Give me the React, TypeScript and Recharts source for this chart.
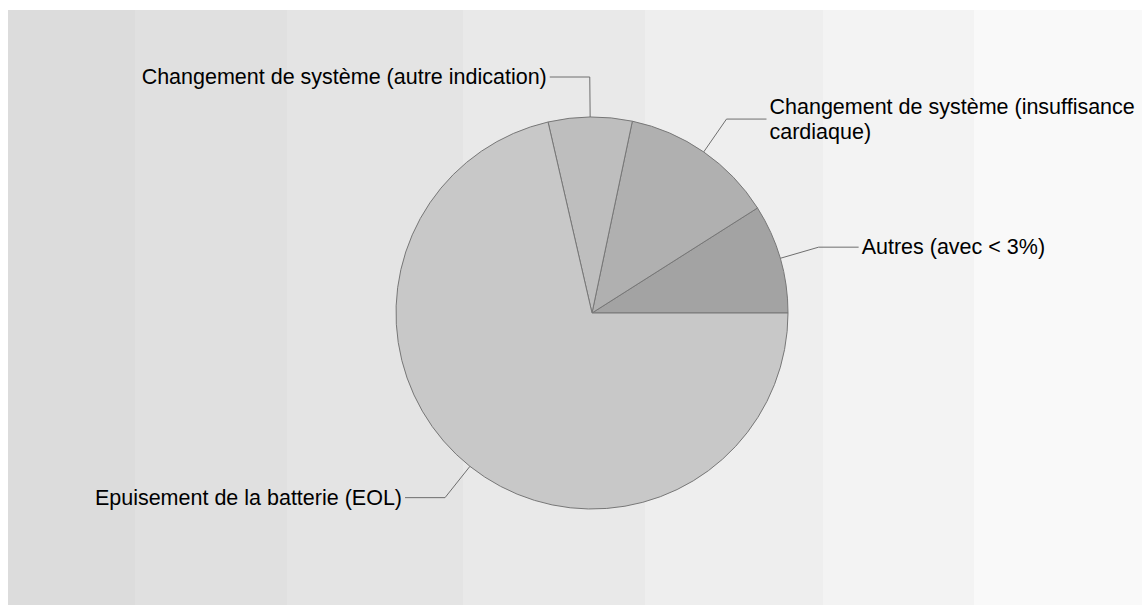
import { PieChart, Pie, Cell } from 'recharts';

const labels = [
  'Autres (avec < 3%)',
  'Changement de système (insuffisance cardiaque)',
  'Changement de système (autre indication)',
  'Epuisement de la batterie (EOL)',
];
const shares = [9.0, 12.7, 6.9, 71.4];
const sliceColors = ['#a3a3a3', '#b0b0b0', '#bebebe', '#c8c8c8'];

const data = labels.map((name, i) => ({ name, value: shares[i] }));

const CHART_W = 1134;
const CHART_H = 595;
const FONT = '21.5px Arial, "Liberation Sans", sans-serif';
const RADIAN = Math.PI / 180;

// background bands (hard-stop gradient)
const bands = [
  ['#dcdcdc', 0, 127],
  ['#e0e0e0', 127, 279],
  ['#e4e4e4', 279, 455],
  ['#e9e9e9', 455, 637],
  ['#eeeeee', 637, 815],
  ['#f3f3f3', 815, 966],
  ['#f9f9f9', 966, 1134],
] as const;
const bg = `linear-gradient(to right, ${bands
  .map(([c, a, b]) => `${c} ${a}px, ${c} ${b}px`)
  .join(', ')})`;

let ctx: CanvasRenderingContext2D | null = null;
function measure(s: string) {
  if (!ctx) {
    ctx = document.createElement('canvas').getContext('2d');
    if (ctx) ctx.font = FONT;
  }
  return ctx ? ctx.measureText(s).width : s.length * 10;
}

function wrap(text: string, maxW: number) {
  const words = text.split(' ');
  const lines: string[] = [];
  let cur = '';
  words.forEach((w) => {
    const next = cur ? cur + ' ' + w : w;
    if (cur && measure(next) > maxW) {
      lines.push(cur);
      cur = w;
    } else {
      cur = next;
    }
  });
  if (cur) lines.push(cur);
  return lines;
}

function renderLabel(props: any) {
  const { cx, cy, midAngle, outerRadius, name } = props;
  const cos = Math.cos(-midAngle * RADIAN);
  const sin = Math.sin(-midAngle * RADIAN);
  const sx = cx + outerRadius * cos;
  const sy = cy + outerRadius * sin;
  const mx = cx + (outerRadius + 40) * cos;
  const my = cy + (outerRadius + 40) * sin;
  const right = cos >= 0;
  const ex = mx + (right ? 40 : -40);
  const tx = ex + (right ? 3 : -3);
  const avail = right ? CHART_W - tx - 2 : tx - 2;
  const lines = wrap(name, avail);
  const lh = 25;
  const y0 = my - ((lines.length - 1) * lh) / 2;
  return (
    <g>
      <polyline
        points={`${sx},${sy} ${mx},${my} ${ex},${my}`}
        fill="none"
        stroke="#6e6e6e"
        strokeWidth={1}
      />
      <text
        x={tx}
        y={y0}
        textAnchor={right ? 'start' : 'end'}
        dominantBaseline="central"
        fill="#000"
        style={{ font: FONT }}
      >
        {lines.map((l, i) => (
          <tspan key={i} x={tx} y={y0 + i * lh}>
            {l}
          </tspan>
        ))}
      </text>
    </g>
  );
}

export default function App() {
  return (
    <div
      style={{
        position: 'absolute',
        left: 8,
        top: 10,
        width: CHART_W,
        height: CHART_H,
        background: bg,
      }}
    >
      <PieChart width={CHART_W} height={CHART_H}>
        <Pie
          data={data}
          dataKey="value"
          nameKey="name"
          cx={579}
          cy={298}
          outerRadius={196}
          startAngle={0}
          endAngle={360}
          stroke="#777"
          strokeWidth={1}
          label={renderLabel}
          labelLine={false}
          isAnimationActive={false}
        >
          {data.map((d, i) => (
            <Cell key={d.name} fill={sliceColors[i]} />
          ))}
        </Pie>
      </PieChart>
    </div>
  );
}
